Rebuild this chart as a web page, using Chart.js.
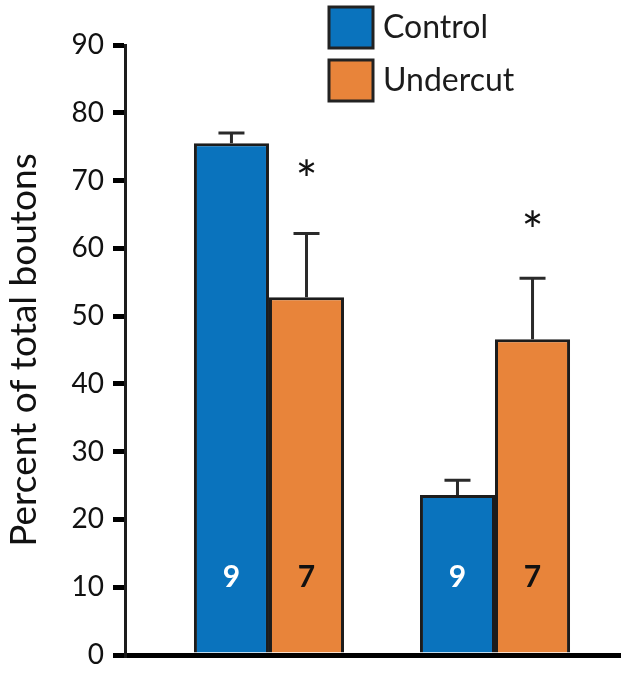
<!DOCTYPE html>
<html>
<head>
<meta charset="utf-8">
<script src="https://cdn.jsdelivr.net/npm/chart.js@4.4.1/dist/chart.umd.min.js"></script>
<style>
    html, body { margin: 0; padding: 0; background: #fff; }
    #wrap { width: 627px; height: 674px; }
</style>
</head>
<body>
<div id="wrap"><canvas id="barChart" width="627" height="674"></canvas></div>
<script>
// Data
const groupX = [0, 1];                 // two unlabeled groups
const seriesNames = ['Control', 'Undercut'];
const controlMeans = [75.5, 23.6];
const undercutMeans = [52.8, 46.6];
const controlErrTop = [77.0, 25.8];
const undercutErrTop = [62.2, 55.6];
const controlN = ['9', '9'];
const undercutN = ['7', '7'];
const starValues = [71.2, 63.7];       // asterisks above the Undercut bars
const nLabelValue = 11.5;
const yTicks = [0, 10, 20, 30, 40, 50, 60, 70, 80, 90];

const FONT = 'Lato, "Open Sans", sans-serif';
const BLUE = '#0a73bd';
const ORANGE = '#e8843a';
const INK = '#1c1c1c';

// Error bars, asterisks, n-labels and the legend box
const extrasPlugin = {
    id: 'extras',
    afterDatasetsDraw(chart) {
        const ctx = chart.ctx;
        const y = chart.scales.y;
        const tops = [controlErrTop, undercutErrTop];
        const means = [controlMeans, undercutMeans];

        ctx.save();
        // error bars
        ctx.strokeStyle = '#2a2a2a';
        ctx.lineWidth = 3;
        chart.data.datasets.forEach((ds, d) => {
            chart.getDatasetMeta(d).data.forEach((bar, i) => {
                const yTop = y.getPixelForValue(tops[d][i]);
                const yMean = y.getPixelForValue(means[d][i]);
                ctx.beginPath();
                ctx.moveTo(bar.x, yMean);
                ctx.lineTo(bar.x, yTop);
                ctx.moveTo(bar.x - 13, yTop);
                ctx.lineTo(bar.x + 13, yTop);
                ctx.stroke();
            });
        });

        // asterisks over the Undercut bars
        ctx.fillStyle = '#111';
        ctx.font = '52px ' + FONT;
        ctx.textAlign = 'center';
        ctx.textBaseline = 'middle';
        chart.getDatasetMeta(1).data.forEach((bar, i) => {
            ctx.fillText('*', bar.x, y.getPixelForValue(starValues[i]) + 10);
        });

        // sample sizes inside the bars
        ctx.font = 'bold 30px ' + FONT;
        const labels = [controlN, undercutN];
        const colors = ['#ffffff', '#111111'];
        chart.data.datasets.forEach((ds, d) => {
            ctx.fillStyle = colors[d];
            chart.getDatasetMeta(d).data.forEach((bar, i) => {
                ctx.fillText(labels[d][i], bar.x, y.getPixelForValue(nLabelValue));
            });
        });

        // legend
        ctx.textAlign = 'left';
        ctx.font = '32px ' + FONT;
        chart.data.datasets.forEach((ds, d) => {
            const top = 7 + d * 53;
            ctx.fillStyle = ds.backgroundColor;
            ctx.fillRect(329, top, 44, 41);
            ctx.strokeStyle = '#222';
            ctx.lineWidth = 3;
            ctx.strokeRect(329, top, 44, 41);
            ctx.fillStyle = INK;
            ctx.fillText(ds.label, 383, top + 21);
        });
        ctx.restore();
    }
};

const chart = new Chart(document.getElementById('barChart'), {
    type: 'bar',
    data: {
        datasets: [
            {
                label: seriesNames[0],
                data: groupX.map((x, i) => ({ x: x, y: controlMeans[i] })),
                backgroundColor: BLUE,
                borderColor: INK,
                borderWidth: 3,
                borderSkipped: 'bottom'
            },
            {
                label: seriesNames[1],
                data: groupX.map((x, i) => ({ x: x, y: undercutMeans[i] })),
                backgroundColor: ORANGE,
                borderColor: INK,
                borderWidth: 3,
                borderSkipped: 'bottom'
            }
        ]
    },
    options: {
        responsive: false,
        animation: false,
        categoryPercentage: 0.664,
        barPercentage: 1.0,
        layout: {
            padding: { top: 45, right: 7, bottom: 0, left: 0 }
        },
        plugins: {
            legend: { display: false },
            tooltip: { enabled: false }
        },
        scales: {
            x: {
                type: 'linear',
                min: -0.637,
                max: 1.553,
                offset: false,
                afterBuildTicks(scale) {
                    // only the group positions, so bar width follows group spacing
                    scale.ticks = groupX.map(v => ({ value: v }));
                },
                grid: { display: false, drawTicks: false },
                ticks: { display: false },
                border: { display: true, color: '#000', width: 5 },
                afterFit(scale) { scale.height = 19; }
            },
            y: {
                min: 0,
                max: 90,
                afterBuildTicks(scale) {
                    scale.ticks = yTicks.map(v => ({ value: v }));
                },
                grid: {
                    drawOnChartArea: false,
                    drawTicks: true,
                    tickLength: 12,
                    lineWidth: 5,
                    color: '#000'
                },
                border: { display: true, color: INK, width: 3 },
                ticks: {
                    color: '#111',
                    padding: 9,
                    font: { family: FONT, size: 28 }
                },
                title: {
                    display: true,
                    text: 'Percent of total boutons',
                    color: '#111',
                    padding: { top: 2, bottom: 0 },
                    font: { family: FONT, size: 37 }
                },
                afterFit(scale) {
                    scale.width = 125;
                    scale.paddingTop = 0;
                    scale.paddingBottom = 0;
                }
            }
        }
    },
    plugins: [extrasPlugin]
});
</script>
</body>
</html>
